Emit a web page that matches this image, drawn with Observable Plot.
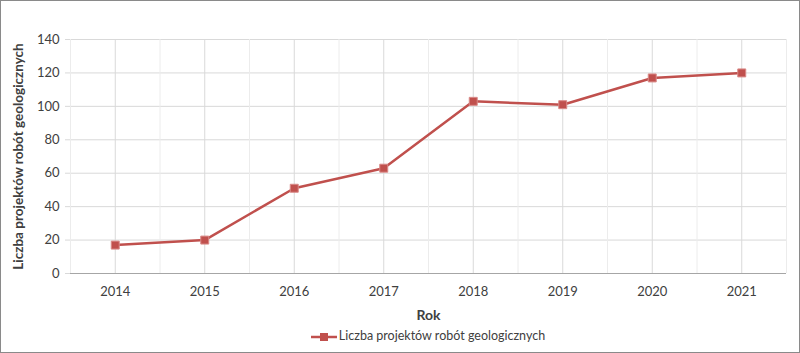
<!DOCTYPE html>
<html><head><meta charset="utf-8">
<script src="https://cdn.jsdelivr.net/npm/d3@7"></script>
<script src="https://cdn.jsdelivr.net/npm/@observablehq/plot@0.6"></script>
<style>
html,body{margin:0;padding:0;background:#fff;}
#frame{width:800px;height:353px;box-sizing:border-box;border:1px solid #8a8a8a;position:relative;font-family:Lato,"Open Sans",sans-serif;overflow:hidden;}
#legend{position:absolute;left:56px;right:0;top:327px;text-align:center;font-size:12.5px;color:#404040;}
#legend svg{vertical-align:middle;margin-right:2px;}
</style></head>
<body><div id="frame"><div id="chart"></div><div id="legend"></div></div>
<script>
const years = [2014, 2015, 2016, 2017, 2018, 2019, 2020, 2021];
const values = [17, 20, 51, 63, 103, 101, 117, 120];
const yTicks = [0, 20, 40, 60, 80, 100, 120, 140];
const seriesName = "Liczba projektów robót geologicznych";
const xLabel = "Rok";
const color = "#c0504d";

const data = years.map((y, i) => ({year: y, value: values[i]}));
const halfYears = [years[0] - 0.5, ...years.map(y => y + 0.5)];

const chart = Plot.plot({
  width: 798, height: 322,
  marginLeft: 69, marginRight: 13, marginTop: 38, marginBottom: 50,
  style: {fontFamily: "Lato, 'Open Sans', sans-serif", fontSize: "13px", color: "#404040"},
  x: {type: "linear", domain: [years[0] - 0.5, years[years.length - 1] + 0.5]},
  y: {domain: [0, 140]},
  marks: [
    Plot.ruleY(yTicks, {stroke: "#d9d9d9", strokeWidth: 1}),
    Plot.ruleX(years, {stroke: "#d9d9d9", strokeWidth: 1}),
    Plot.ruleX(halfYears, {stroke: "#ececec", strokeWidth: 1}),
    Plot.ruleY([0], {stroke: "#a6a6a6", strokeWidth: 1}),
    Plot.axisY(yTicks, {tickSize: 5, tickPadding: 6, stroke: "#d9d9d9", fill: "#404040", fontSize: 13, label: null}),
    Plot.axisX(years, {tickSize: 0, tickPadding: 13, fill: "#404040", fontSize: 13, tickFormat: d => String(d), label: null}),
    Plot.text([xLabel], {frameAnchor: "bottom", dy: 46, fontWeight: "bold", fontSize: 14, fill: "#404040"}),
    Plot.text([seriesName], {frameAnchor: "left", textAnchor: "middle", rotate: -90, dx: -52, fontWeight: "bold", fontSize: 13.5, fill: "#404040"}),
    Plot.line(data, {x: "year", y: "value", stroke: color, strokeWidth: 2.5}),
    Plot.dot(data, {x: "year", y: "value", symbol: "square", r: 4.5, fill: color, stroke: "#d98a88", strokeWidth: 1})
  ]
});
document.getElementById("chart").appendChild(chart);

document.getElementById("legend").innerHTML =
  `<svg width="26" height="10"><line x1="0" y1="5" x2="26" y2="5" stroke="${color}" stroke-width="2.5"/><rect x="9" y="1" width="8" height="8" fill="${color}"/></svg>` +
  `<span>${seriesName}</span>`;
</script>
</body></html>
